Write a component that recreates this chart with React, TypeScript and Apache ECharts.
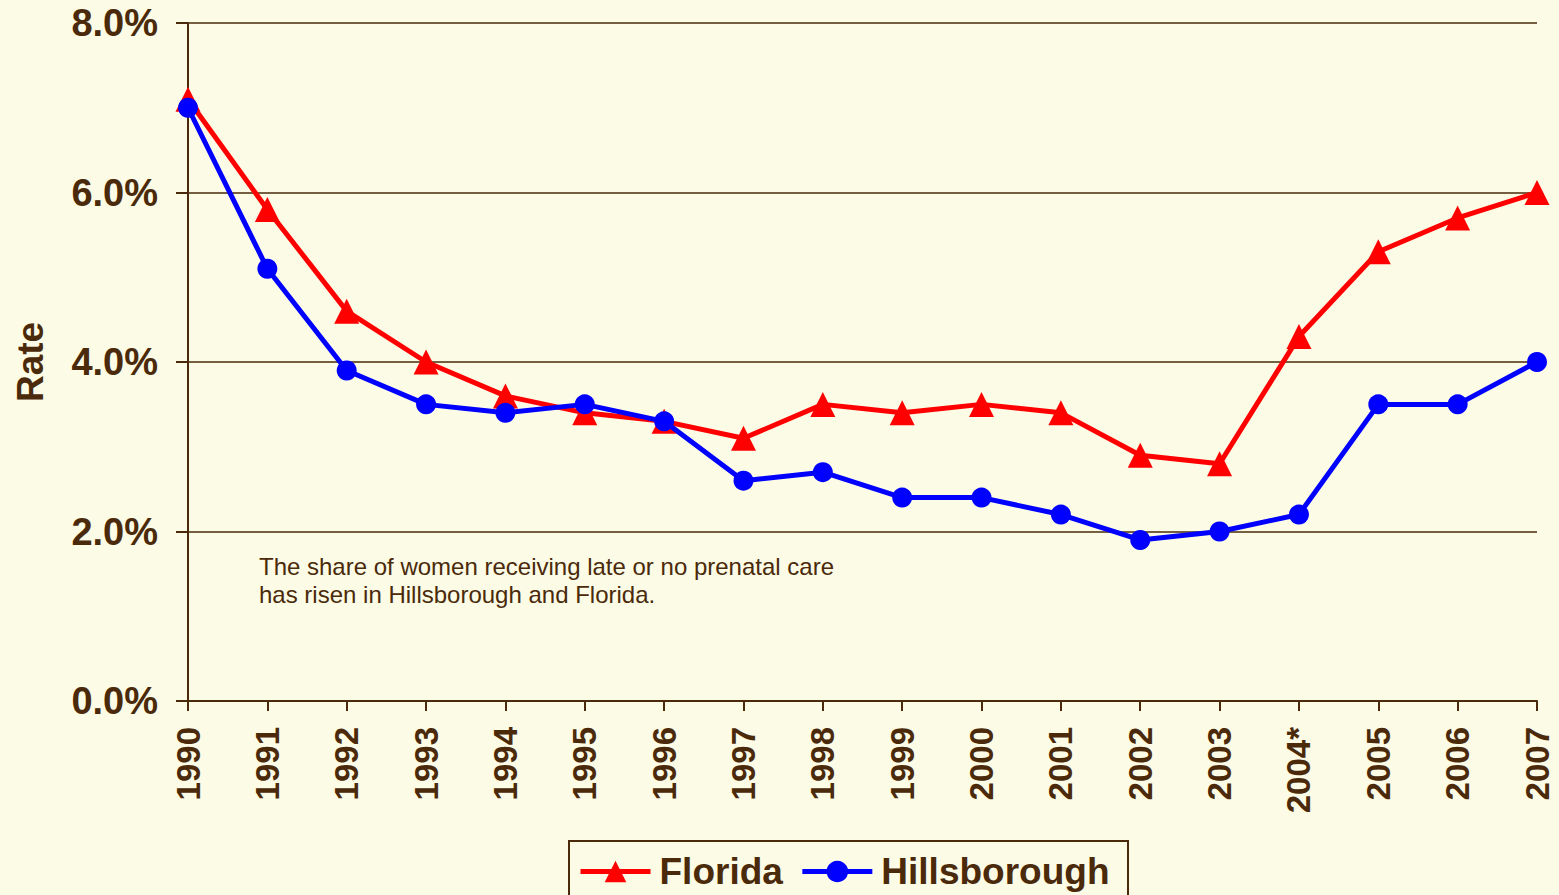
import React, { useEffect, useRef } from "react";
import * as echarts from "echarts";

const years = ["1990","1991","1992","1993","1994","1995","1996","1997","1998","1999","2000","2001","2002","2003","2004*","2005","2006","2007"];
const florida = [7.1, 5.8, 4.6, 4.0, 3.6, 3.4, 3.3, 3.1, 3.5, 3.4, 3.5, 3.4, 2.9, 2.8, 4.3, 5.3, 5.7, 6.0];
const hillsborough = [7.0, 5.1, 3.9, 3.5, 3.4, 3.5, 3.3, 2.6, 2.7, 2.4, 2.4, 2.2, 1.9, 2.0, 2.2, 3.5, 3.5, 4.0];
const noteLines = [
  "The share of women receiving late or no prenatal care",
  "has risen in Hillsborough and Florida.",
];

const BROWN = "#4A2A0A";
const BG = "#FCFBE5";
const FONT = 'Arial, "Liberation Sans", Helvetica, sans-serif';

export default function App() {
  const ref = useRef<HTMLDivElement>(null);
  useEffect(() => {
    if (!ref.current) return;
    const chart = echarts.init(ref.current, undefined, { renderer: "svg" });
    chart.setOption({
      animation: false,
      backgroundColor: BG,
      textStyle: { fontFamily: FONT },
      grid: { left: 188, top: 23, right: 22, bottom: 194, containLabel: false },
      xAxis: {
        type: "category",
        data: years,
        boundaryGap: false,
        axisLine: { show: true, lineStyle: { color: BROWN, width: 2 } },
        axisTick: { show: true, alignWithLabel: true, length: 10, lineStyle: { color: BROWN, width: 2 } },
        axisLabel: {
          rotate: 90,
          margin: 26,
          color: BROWN,
          fontSize: 33,
          fontWeight: "bold",
          fontFamily: FONT,
          interval: 0,
        },
        splitLine: { show: false },
      },
      yAxis: {
        type: "value",
        min: 0,
        max: 8,
        interval: 2,
        name: "Rate",
        nameLocation: "middle",
        nameRotate: 90,
        nameGap: 139,
        nameTextStyle: { color: BROWN, fontSize: 37, fontWeight: "bold", fontFamily: FONT },
        axisLine: { show: true, lineStyle: { color: BROWN, width: 2 } },
        axisTick: { show: true, length: 12, lineStyle: { color: BROWN, width: 2 } },
        axisLabel: {
          margin: 30,
          color: BROWN,
          fontSize: 38,
          fontWeight: "bold",
          fontFamily: FONT,
          formatter: (v: number) => v.toFixed(1) + "%",
        },
        splitLine: { show: true, lineStyle: { color: BROWN, width: 1.5 } },
      },
      legend: {
        left: 578,
        top: 853,
        padding: 0,
        itemWidth: 70,
        itemHeight: 27,
        itemGap: 17,
        lineStyle: { width: 5 },
        textStyle: { color: BROWN, fontSize: 37, lineHeight: 36, fontWeight: "bold", fontFamily: FONT, padding: [0, 0, 0, 4] },
        data: ["Florida", "Hillsborough"],
      },
      graphic: [
        {
          type: "rect",
          shape: { x: 569, y: 841, width: 559, height: 80 },
          style: { fill: "transparent", stroke: BROWN, lineWidth: 2 },
          z: 100,
        },
        {
          type: "text",
          left: 259,
          top: 552,
          style: {
            text: noteLines.join("\n"),
            fill: BROWN,
            fontSize: 24,
            lineHeight: 28,
            fontFamily: FONT,
          },
        },
      ],
      series: [
        {
          name: "Florida",
          type: "line",
          data: florida,
          symbol: "triangle",
          symbolSize: 25,
          lineStyle: { color: "#FF0000", width: 5 },
          itemStyle: { color: "#FF0000" },
          z: 2,
        },
        {
          name: "Hillsborough",
          type: "line",
          data: hillsborough,
          symbol: "circle",
          symbolSize: 20,
          lineStyle: { color: "#0000FF", width: 5 },
          itemStyle: { color: "#0000FF" },
          z: 3,
        },
      ],
    });
    return () => chart.dispose();
  }, []);
  return (
    <div
      ref={ref}
      style={{ position: "absolute", left: 0, top: 0, width: 1559, height: 895 }}
    />
  );
}
